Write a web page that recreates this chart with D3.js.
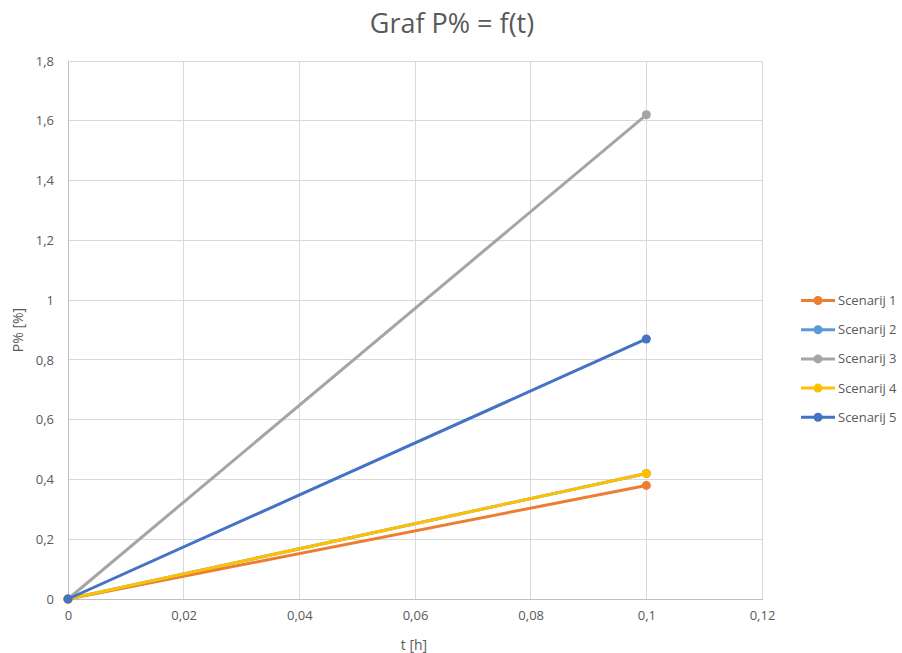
<!DOCTYPE html>
<html><head><meta charset="utf-8">
<script src="https://cdn.jsdelivr.net/npm/d3@7"></script>
<style>
body{margin:0;background:#fff;}
text{font-family:"Open Sans",sans-serif;}
</style></head>
<body><svg id="c" width="902" height="653"></svg>
<script>
const seriesNames = ["Scenarij 1","Scenarij 2","Scenarij 3","Scenarij 4","Scenarij 5"];
const seriesColors = ["#ED7D31","#5B9BD5","#A5A5A5","#FFC000","#4472C4"];
const tValues = [0, 0.1];
const s1 = [0, 0.38];
const s2 = [0, 0.42];
const s3 = [0, 1.62];
const s4 = [0, 0.42];
const s5 = [0, 0.87];
const xTicks = [0,0.02,0.04,0.06,0.08,0.1,0.12];
const yTicks = [0,0.2,0.4,0.6,0.8,1,1.2,1.4,1.6,1.8];
const allSeries = [s1,s2,s3,s4,s5];

const svg = d3.select("#c");
const L=68,R=762,T=61,B=599;
const x = d3.scaleLinear().domain([0,0.12]).range([L,R]);
const y = d3.scaleLinear().domain([0,1.8]).range([B,T]);
const fmt = v => String(+v.toFixed(2)).replace(".",",");

// grid
svg.append("g").selectAll("line").data(yTicks).join("line")
  .attr("x1",L).attr("x2",R).attr("y1",d=>y(d)).attr("y2",d=>y(d))
  .attr("stroke","#d9d9d9").attr("stroke-width",1).attr("shape-rendering","crispEdges");
svg.append("g").selectAll("line").data(xTicks).join("line")
  .attr("y1",T).attr("y2",B).attr("x1",d=>x(d)).attr("x2",d=>x(d))
  .attr("stroke","#d9d9d9").attr("stroke-width",1).attr("shape-rendering","crispEdges");

// axes
const xAxis = d3.axisBottom(x).tickValues(xTicks).tickFormat(fmt).tickSize(0).tickPadding(12);
const gx = svg.append("g").attr("transform",`translate(0,${B})`).call(xAxis);
gx.select(".domain").attr("stroke","#bfbfbf").attr("shape-rendering","crispEdges");
gx.selectAll("text").attr("fill","#595959").attr("font-size","13px");
const yAxis = d3.axisLeft(y).tickValues(yTicks).tickFormat(fmt).tickSize(0).tickPadding(14);
const gy = svg.append("g").attr("transform",`translate(${L},0)`).call(yAxis);
gy.select(".domain").attr("stroke","#bfbfbf").attr("shape-rendering","crispEdges");
gy.selectAll("text").attr("fill","#595959").attr("font-size","13px");

// lines
const line = d3.line().x((d,i)=>x(tValues[i])).y(d=>y(d));
allSeries.forEach((s,k)=>{
  svg.append("path").datum(s).attr("d",line).attr("fill","none")
    .attr("stroke",seriesColors[k]).attr("stroke-width",3).attr("stroke-linecap","round");
  svg.append("g").selectAll("circle").data(s).join("circle")
    .attr("cx",(d,i)=>x(tValues[i])).attr("cy",d=>y(d)).attr("r",4.5)
    .attr("fill",seriesColors[k]);
});

// title and labels
svg.append("text").attr("x",452).attr("y",33).attr("text-anchor","middle")
  .attr("font-size","27px").attr("fill","#595959").text("Graf P% = f(t)");
svg.append("text").attr("x",414).attr("y",650).attr("text-anchor","middle")
  .attr("font-size","14px").attr("fill","#595959").text("t [h]");
svg.append("text").attr("transform","translate(23,330) rotate(-90)").attr("text-anchor","middle")
  .attr("font-size","14px").attr("fill","#595959").text("P% [%]");

// legend
const lg = svg.append("g");
seriesNames.forEach((n,k)=>{
  const yy = 300.5 + k*29.2;
  lg.append("line").attr("x1",801).attr("x2",835).attr("y1",yy).attr("y2",yy)
    .attr("stroke",seriesColors[k]).attr("stroke-width",3);
  lg.append("circle").attr("cx",818).attr("cy",yy).attr("r",4.5).attr("fill",seriesColors[k]);
  lg.append("text").attr("x",838).attr("y",yy+4.5).attr("font-size","13px")
    .attr("fill","#595959").text(n);
});
</script></body></html>
